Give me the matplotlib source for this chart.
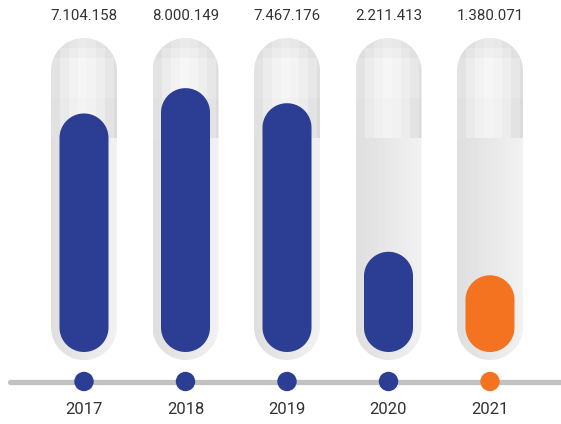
import numpy as np
import matplotlib
matplotlib.use("Agg")
import matplotlib.pyplot as plt
from matplotlib.patches import Polygon

# ---- data ----
years = ["2017", "2018", "2019", "2020", "2021"]
values = [7104158, 8000149, 7467176, 2211413, 1380071]
bar_colors = ["#2B3E93", "#2B3E93", "#2B3E93", "#2B3E93", "#F47321"]

# ---- layout (pixel geometry of the reference) ----
W, H = 561, 424
X0, DX = 84.0, 101.5        # first category centre, spacing (px)
Y0, K = 314.3, 28.27        # px from top of value 0, px per million
BASE = -1.333               # bar baseline (millions)

def py(p):  # pixel-from-top -> data y
    return (Y0 - p) / K

def px(p):  # pixel-from-left -> data x
    return (p - X0) / DX

fig = plt.figure(figsize=(W / 100, H / 100), dpi=100)
ax = fig.add_axes([0, 0, 1, 1])
ax.set_xlim(px(0), px(W))
ax.set_ylim(py(H), py(0))
ax.axis("off")

aspect = DX / K   # data-y units per data-x unit for equal pixel length


def capsule(xc, y0, y1, hw, **kw):
    rv = hw * aspect
    t = np.linspace(0, np.pi, 60)
    top = np.column_stack([xc + hw * np.cos(t), (y1 - rv) + rv * np.sin(t)])
    bot = np.column_stack([xc - hw * np.cos(t), (y0 + rv) - rv * np.sin(t)])
    return Polygon(np.vstack([top, bot]), closed=True, **kw)


# ---- tube background gradient (decoration) ----
tube_hw = 33 / DX
tube_top, tube_bot = py(38), py(360)
th, tw = 322, 66
grad = np.zeros((th, tw))
cols = np.arange(tw)
grad[:] = 0.872 + (0.945 - 0.872) * cols / (tw - 1)
blk = 10
for r0 in range(0, 98, blk):
    for c0 in range(0, tw, 9):
        cc = c0 + 4.5
        rr = r0 + 5
        g = 0.965 - 0.09 * (abs(cc - 33) / 33) ** 1.5
        if rr < 25:
            g -= 0.06 * (1 - rr / 25)
        if rr > 55:
            g -= 0.01
        grad[r0:r0 + blk, c0:c0 + 9] = g

for i, v in enumerate(values):
    patch = capsule(i, tube_bot, tube_top, tube_hw, facecolor="none",
                    edgecolor="none", zorder=1)
    ax.add_patch(patch)
    im = ax.imshow(grad, cmap="gray", vmin=0, vmax=1, interpolation="nearest",
                   extent=[i - tube_hw, i + tube_hw, tube_bot, tube_top],
                   aspect="auto", zorder=1)
    im.set_clip_path(patch)

# ---- bars (rounded capsules) ----
bar_hw = 24.5 / DX
for i, v in enumerate(values):
    m = v / 1e6
    ax.add_patch(capsule(i, BASE, m, bar_hw, facecolor=bar_colors[i],
                         edgecolor="none", zorder=3))
    label = f"{v:,}".replace(",", ".")
    ax.text(i, py(16), label, ha="center", va="center", fontsize=10.8,
            family="Roboto", color="#333333", zorder=5)

# ---- timeline ----
ly = py(381.5)
ax.plot([px(10), px(W + 20)], [ly, ly], color="#C2C2C2", lw=3.8,
        solid_capstyle="round", zorder=2)
ax.scatter(range(len(years)), [ly] * len(years), s=195, c=bar_colors,
           zorder=4, linewidths=0)
for i, y in enumerate(years):
    ax.text(i, py(409), y, ha="center", va="center", fontsize=12,
            family="Roboto", color="#333333")

fig.savefig("out.png", dpi=100)
